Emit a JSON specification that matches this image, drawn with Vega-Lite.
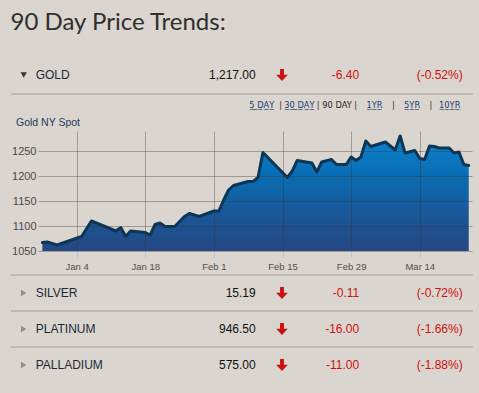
{
  "$schema": "https://vega.github.io/schema/vega-lite/v6.json",
  "background": "#dad5ce",
  "padding": {"left": 10, "top": 11, "right": 7, "bottom": 10},
  "config": {
    "view": {"stroke": null},
    "font": "Liberation Sans",
    "text": {"font": "Liberation Sans"},
    "axis": {"labelFont": "Liberation Sans"}
  },
  "title": {
    "text": "90 Day Price Trends:",
    "anchor": "start",
    "font": "Lato",
    "fontSize": 24,
    "fontWeight": "normal",
    "color": "#2f2f2f",
    "offset": 21
  },
  "datasets": {
    "metals": [
      {"metal": "GOLD", "price": "1,217.00", "change": "-6.40", "pct": "(-0.52%)"},
      {"metal": "SILVER", "price": "15.19", "change": "-0.11", "pct": "(-0.72%)"},
      {"metal": "PLATINUM", "price": "946.50", "change": "-16.00", "pct": "(-1.66%)"},
      {"metal": "PALLADIUM", "price": "575.00", "change": "-11.00", "pct": "(-1.88%)"}
    ],
    "links": [
      {"id": "b1", "t": "5\u0332 \u0332D\u0332A\u0332Y\u0332", "k": "link"},
      {"id": "s1", "t": "|", "k": "sep"},
      {"id": "b2", "t": "3\u03320\u0332 \u0332D\u0332A\u0332Y\u0332", "k": "link"},
      {"id": "s2", "t": "|", "k": "sep"},
      {"id": "b3", "t": "90 DAY", "k": "active"},
      {"id": "s3", "t": "|", "k": "sep"},
      {"id": "b4", "t": "1\u0332Y\u0332R\u0332", "k": "link"},
      {"id": "s4", "t": "|", "k": "sep"},
      {"id": "b5", "t": "5\u0332Y\u0332R\u0332", "k": "link"},
      {"id": "s5", "t": "|", "k": "sep"},
      {"id": "b6", "t": "1\u03320\u0332Y\u0332R\u0332", "k": "link"}
    ],
    "gold": [
      {"date": "2015-12-28", "price": 1067},
      {"date": "2015-12-29", "price": 1068},
      {"date": "2015-12-31", "price": 1062},
      {"date": "2016-01-05", "price": 1079},
      {"date": "2016-01-07", "price": 1110},
      {"date": "2016-01-12", "price": 1090},
      {"date": "2016-01-13", "price": 1097},
      {"date": "2016-01-14", "price": 1079},
      {"date": "2016-01-15", "price": 1090},
      {"date": "2016-01-16", "price": 1089},
      {"date": "2016-01-18", "price": 1087},
      {"date": "2016-01-19", "price": 1082},
      {"date": "2016-01-20", "price": 1103},
      {"date": "2016-01-21", "price": 1106},
      {"date": "2016-01-22", "price": 1099},
      {"date": "2016-01-24", "price": 1099},
      {"date": "2016-01-26", "price": 1119},
      {"date": "2016-01-27", "price": 1125},
      {"date": "2016-01-29", "price": 1119},
      {"date": "2016-02-01", "price": 1130},
      {"date": "2016-02-02", "price": 1130},
      {"date": "2016-02-03", "price": 1152},
      {"date": "2016-02-04", "price": 1172},
      {"date": "2016-02-05", "price": 1181},
      {"date": "2016-02-08", "price": 1189},
      {"date": "2016-02-09", "price": 1189},
      {"date": "2016-02-10", "price": 1197},
      {"date": "2016-02-11", "price": 1247},
      {"date": "2016-02-16", "price": 1197},
      {"date": "2016-02-17", "price": 1210},
      {"date": "2016-02-18", "price": 1231},
      {"date": "2016-02-21", "price": 1226},
      {"date": "2016-02-22", "price": 1208},
      {"date": "2016-02-23", "price": 1228},
      {"date": "2016-02-25", "price": 1233},
      {"date": "2016-02-26", "price": 1223},
      {"date": "2016-02-28", "price": 1223},
      {"date": "2016-02-29", "price": 1238},
      {"date": "2016-03-01", "price": 1231},
      {"date": "2016-03-02", "price": 1238},
      {"date": "2016-03-03", "price": 1270},
      {"date": "2016-03-04", "price": 1259},
      {"date": "2016-03-07", "price": 1268},
      {"date": "2016-03-09", "price": 1252},
      {"date": "2016-03-10", "price": 1280},
      {"date": "2016-03-11", "price": 1246},
      {"date": "2016-03-13", "price": 1251},
      {"date": "2016-03-14", "price": 1235},
      {"date": "2016-03-15", "price": 1233},
      {"date": "2016-03-16", "price": 1260},
      {"date": "2016-03-17", "price": 1259},
      {"date": "2016-03-18", "price": 1256},
      {"date": "2016-03-20", "price": 1256},
      {"date": "2016-03-21", "price": 1246},
      {"date": "2016-03-22", "price": 1248},
      {"date": "2016-03-23", "price": 1223},
      {"date": "2016-03-24", "price": 1221}
    ]
  },
  "spacing": 0,
  "vconcat": [
    {
      "width": 462,
      "height": 38,
      "data": {"name": "metals"},
      "transform": [{"filter": "datum.metal === 'GOLD'"}],
      "encoding": {
        "y": {"field": "metal", "type": "nominal", "axis": null, "scale": {"type": "band", "domain": ["GOLD"], "paddingInner": 0, "paddingOuter": 0}}
      },
      "layer": [
        {
          "mark": {"type": "rule", "color": "#a69e92", "strokeWidth": 1},
          "encoding": {"y": {"field": "metal", "type": "nominal", "bandPosition": 1, "axis": null}}
        },
        {
          "mark": {"type": "point", "shape": "triangle-down", "filled": true, "size": 40, "color": "#2c3540", "opacity": 1},
          "encoding": {"x": {"datum": "icon", "type": "nominal", "axis": null, "scale": {"type": "point", "domain": ["icon", "name"], "range": [12.7, 24.7], "padding": 0}}}
        },
        {
          "mark": {"type": "text", "align": "left", "baseline": "middle", "fontSize": 12, "color": "#1b2a3a"},
          "encoding": {
            "x": {"datum": "name", "type": "nominal", "axis": null, "scale": {"type": "point", "domain": ["icon", "name"], "range": [12.7, 24.7], "padding": 0}},
            "text": {"field": "metal"}
          }
        },
        {
          "transform": [{"fold": ["price", "change", "pct"], "as": ["col", "val"]}],
          "mark": {"type": "text", "align": "right", "baseline": "middle", "fontSize": 12},
          "encoding": {
            "x": {"field": "col", "type": "nominal", "axis": null, "scale": {"type": "point", "domain": ["price", "change", "pct"], "range": [244.7, 451.7], "padding": 0}},
            "text": {"field": "val"},
            "color": {"field": "col", "type": "nominal", "legend": null, "scale": {"domain": ["price", "change", "pct"], "range": ["#111111", "#cc1111", "#cc1111"]}}
          }
        },
        {
          "mark": {"type": "point", "shape": "M-0.32,-1L0.32,-1L0.32,-0.05L0.95,-0.05L0,1L-0.95,-0.05L-0.32,-0.05Z", "filled": true, "size": 150, "color": "#cc1111", "opacity": 1},
          "encoding": {"x": {"datum": "arrow", "type": "nominal", "axis": null, "scale": {"type": "point", "domain": ["arrow"], "range": [271, 271], "padding": 0}}}
        }
      ],
      "resolve": {"scale": {"x": "independent", "color": "independent"}}
    },
    {
      "width": 462,
      "height": 36,
      "layer": [
        {
          "data": {"name": "links"},
          "mark": {"type": "text", "align": "center", "baseline": "middle", "fontSize": 8.3, "font": "DejaVu Sans"},
          "encoding": {
            "x": {"field": "id", "type": "nominal", "axis": null, "scale": {"type": "point", "domain": ["b1", "s1", "b2", "s2", "b3", "s3", "b4", "s4", "b5", "s5", "b6"], "range": [250.8, 438.7], "padding": 0}},
            "y": {"datum": "links", "type": "nominal", "axis": null, "scale": {"type": "point", "domain": ["links", "label"], "range": [10.7, 28], "padding": 0}},
            "text": {"field": "t"},
            "color": {"field": "k", "type": "nominal", "legend": null, "scale": {"domain": ["link", "sep", "active"], "range": ["#1c3f6e", "#3e2a2a", "#2b2b2b"]}}
          }
        },
        {
          "data": {"values": [{"label": "Gold NY Spot"}]},
          "mark": {"type": "text", "align": "left", "baseline": "middle", "fontSize": 10.5, "color": "#1e3a5c"},
          "encoding": {
            "x": {"field": "label", "type": "nominal", "axis": null, "scale": {"type": "point", "range": [5, 5], "padding": 0}},
            "y": {"datum": "label", "type": "nominal", "axis": null, "scale": {"type": "point", "domain": ["links", "label"], "range": [10.7, 28], "padding": 0}},
            "text": {"field": "label"}
          }
        }
      ],
      "resolve": {"scale": {"x": "independent", "color": "independent"}}
    },
    {
      "width": 462,
      "height": 120,
      "data": {"name": "gold"},
      "encoding": {
        "x": {
          "field": "date",
          "type": "temporal",
          "scale": {
            "type": "utc",
            "domain": [
              {"year": 2015, "month": 12, "date": 27, "hours": 2, "minutes": 30, "utc": true},
              {"year": 2016, "month": 3, "date": 24, "hours": 16, "utc": true}
            ],
            "range": [27, 461]
          },
          "axis": {
            "title": null,
            "values": [
              {"year": 2016, "month": 1, "date": 4, "utc": true},
              {"year": 2016, "month": 1, "date": 18, "utc": true},
              {"year": 2016, "month": 2, "date": 1, "utc": true},
              {"year": 2016, "month": 2, "date": 15, "utc": true},
              {"year": 2016, "month": 2, "date": 29, "utc": true},
              {"year": 2016, "month": 3, "date": 14, "utc": true}
            ],
            "labelExpr": "utcFormat(datum.value, '%b %-d')",
            "grid": true,
            "gridColor": "#3c3020",
            "gridOpacity": 0.35,
            "domain": false,
            "ticks": true,
            "tickColor": "#a9c6e2",
            "tickSize": 6,
            "labelPadding": 4.5,
            "labelFontSize": 9.5,
            "labelColor": "#505050",
            "labelFlush": false,
            "labelOverlap": false,
            "minExtent": 23,
            "maxExtent": 23,
            "zindex": 1
          }
        },
        "y": {
          "field": "price",
          "type": "quantitative",
          "scale": {"domain": [1050, 1290], "zero": false, "nice": false},
          "axis": {
            "title": null,
            "values": [1050, 1100, 1150, 1200, 1250],
            "format": "d",
            "grid": true,
            "gridColor": "#3c3020",
            "gridOpacity": 0.35,
            "domain": false,
            "ticks": false,
            "labelPadding": 2,
            "labelFontSize": 11,
            "labelColor": "#4a4a4a",
            "offset": -27,
            "minExtent": 0,
            "zindex": 1
          }
        }
      },
      "layer": [
        {
          "mark": {
            "type": "area",
            "opacity": 1,
            "fill": {
              "gradient": "linear",
              "x1": 0, "y1": 0, "x2": 0, "y2": 1,
              "stops": [
                {"offset": 0, "color": "#0b84cf"},
                {"offset": 0.35, "color": "#0a6cb2"},
                {"offset": 0.75, "color": "#1c5393"},
                {"offset": 1, "color": "#254884"}
              ]
            }
          },
          "encoding": {"y2": {"datum": 1050}}
        },
        {
          "mark": {"type": "line", "color": "#0d3656", "strokeWidth": 3, "strokeJoin": "round", "strokeCap": "round"}
        }
      ]
    },
    {
      "width": 462,
      "height": 108,
      "data": {"name": "metals"},
      "transform": [{"filter": "datum.metal !== 'GOLD'"}],
      "encoding": {
        "y": {"field": "metal", "type": "nominal", "axis": null, "scale": {"type": "band", "domain": ["SILVER", "PLATINUM", "PALLADIUM"], "paddingInner": 0, "paddingOuter": 0}}
      },
      "layer": [
        {
          "mark": {"type": "rule", "color": "#a69e92", "strokeWidth": 1},
          "encoding": {"y": {"field": "metal", "type": "nominal", "bandPosition": 0, "axis": null}}
        },
        {
          "mark": {"type": "point", "shape": "triangle-right", "filled": true, "size": 40, "color": "#8a8e96", "opacity": 1},
          "encoding": {"x": {"datum": "icon", "type": "nominal", "axis": null, "scale": {"type": "point", "domain": ["icon", "name"], "range": [12.7, 24.7], "padding": 0}}}
        },
        {
          "mark": {"type": "text", "align": "left", "baseline": "middle", "fontSize": 12, "color": "#1b2a3a"},
          "encoding": {
            "x": {"datum": "name", "type": "nominal", "axis": null, "scale": {"type": "point", "domain": ["icon", "name"], "range": [12.7, 24.7], "padding": 0}},
            "text": {"field": "metal"}
          }
        },
        {
          "transform": [{"fold": ["price", "change", "pct"], "as": ["col", "val"]}],
          "mark": {"type": "text", "align": "right", "baseline": "middle", "fontSize": 12},
          "encoding": {
            "x": {"field": "col", "type": "nominal", "axis": null, "scale": {"type": "point", "domain": ["price", "change", "pct"], "range": [244.7, 451.7], "padding": 0}},
            "text": {"field": "val"},
            "color": {"field": "col", "type": "nominal", "legend": null, "scale": {"domain": ["price", "change", "pct"], "range": ["#111111", "#cc1111", "#cc1111"]}}
          }
        },
        {
          "mark": {"type": "point", "shape": "M-0.32,-1L0.32,-1L0.32,-0.05L0.95,-0.05L0,1L-0.95,-0.05L-0.32,-0.05Z", "filled": true, "size": 150, "color": "#cc1111", "opacity": 1},
          "encoding": {"x": {"datum": "arrow", "type": "nominal", "axis": null, "scale": {"type": "point", "domain": ["arrow"], "range": [271, 271], "padding": 0}}}
        }
      ],
      "resolve": {"scale": {"x": "independent", "color": "independent"}}
    }
  ]
}
